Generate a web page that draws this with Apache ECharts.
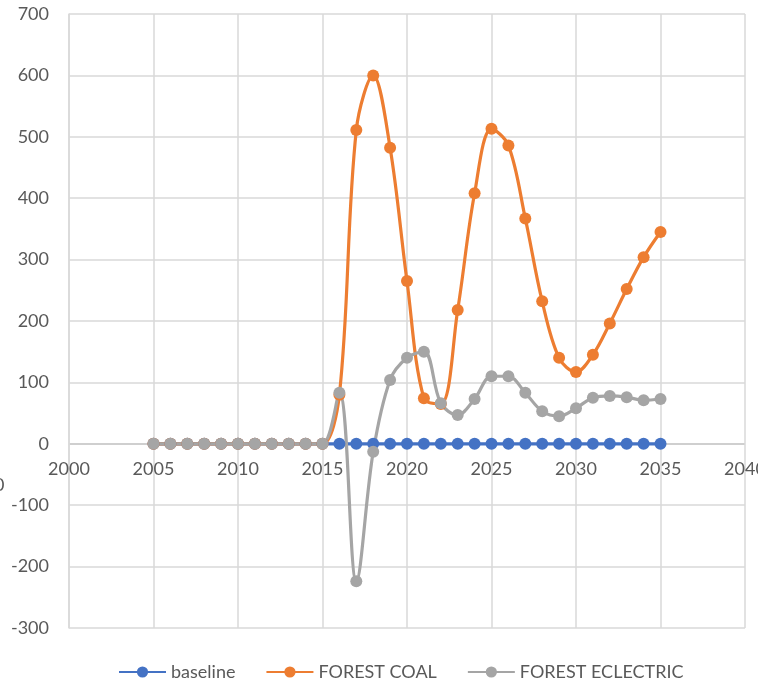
<!DOCTYPE html>
<html>
<head>
<meta charset="utf-8">
<script src="https://cdn.jsdelivr.net/npm/echarts@6/dist/echarts.min.js"></script>
<style>
  html, body { margin: 0; padding: 0; background: #fff; overflow: hidden; }
  #chart { position: absolute; left: 0; top: 0; width: 758px; height: 687px; }
</style>
</head>
<body>
<div id="chart"></div>
<script>
// Years on the x axis
const years = [2005, 2006, 2007, 2008, 2009, 2010, 2011, 2012, 2013, 2014, 2015,
  2016, 2017, 2018, 2019, 2020, 2021, 2022, 2023, 2024, 2025,
  2026, 2027, 2028, 2029, 2030, 2031, 2032, 2033, 2034, 2035];

const baseline = [0, 0, 0, 0, 0, 0, 0, 0, 0, 0, 0,
  0, 0, 0, 0, 0, 0, 0, 0, 0, 0,
  0, 0, 0, 0, 0, 0, 0, 0, 0, 0];

const forestCoal = [0, 0, 0, 0, 0, 0, 0, 0, 0, 0, 0,
  80, 511, 600, 482, 265, 74, 65, 218, 408, 513,
  486, 367, 232, 140, 117, 145, 196, 252, 304, 345];

const forestElectric = [0, 0, 0, 0, 0, 0, 0, 0, 0, 0, 0,
  83, -224, -13, 104, 140, 150, 66, 47, 73, 110,
  110, 83, 53, 45, 58, 75, 78, 76, 71, 73];

const seriesNames = ['baseline', 'FOREST COAL', 'FOREST ECLECTRIC'];
const colors = ['#4472C4', '#ED7D31', '#A5A5A5'];

// y ticks: the zero line doubles as the horizontal axis and is drawn darker
const yTicks = [-300, -200, -100, 0, 100, 200, 300, 400, 500, 600, 700];
const yLineColors = yTicks.map(v => (v === 0 ? '#BFBFBF' : '#D9D9D9'));

const pairs = arr => years.map((y, i) => [y, arr[i]]);

const FONT = 'Lato';
const chart = echarts.init(document.getElementById('chart'), null, {
  renderer: 'canvas', width: 758, height: 687
});

function lineSeries(name, values, color, smooth) {
  return {
    name: name,
    type: 'line',
    data: pairs(values),
    smooth: smooth,
    symbol: 'circle',
    symbolSize: 12,
    showAllSymbol: true,
    lineStyle: { color: color, width: 3.2 },
    itemStyle: { color: color },
    emphasis: { disabled: true },
    animation: false
  };
}

chart.setOption({
  animation: false,
  textStyle: { fontFamily: FONT },
  grid: {
    left: 69, right: 13, top: 14, bottom: 59,
    containLabel: false,
    outerBoundsMode: 'none'
  },
  legend: {
    bottom: 1,
    left: 114,
    itemWidth: 47,
    itemHeight: 12,
    itemGap: 31,
    icon: 'path://M0,5 L46,5 L46,7 L0,7 Z M23,0.5 A5.5,5.5 0 1 1 22.99,0.5 Z',
    textStyle: { fontSize: 18, color: '#595959', fontFamily: FONT },
    data: seriesNames
  },
  xAxis: {
    type: 'value',
    min: 2000,
    max: 2040,
    interval: 5,
    axisLine: { show: false },
    axisTick: { show: false },
    axisLabel: {
      color: '#595959', fontSize: 18, margin: -168,
      showMaxLabel: true, showMinLabel: true,
      formatter: v => String(v)
    },
    splitLine: { show: true, lineStyle: { color: '#D9D9D9', width: 1.5 } }
  },
  yAxis: {
    type: 'value',
    min: -300,
    max: 700,
    interval: 100,
    axisLine: { show: true, lineStyle: { color: '#D9D9D9', width: 1.5 } },
    axisTick: { show: false },
    axisLabel: { color: '#595959', fontSize: 18, margin: 20 },
    splitLine: { show: true, lineStyle: { color: yLineColors, width: 1.5 } }
  },
  graphic: [{
    type: 'text',
    left: -6,
    top: 476,
    style: { text: '0', fontSize: 18, fill: '#595959', fontFamily: FONT }
  }],
  series: [
    lineSeries(seriesNames[0], baseline, colors[0], false),
    lineSeries(seriesNames[1], forestCoal, colors[1], 0.35),
    lineSeries(seriesNames[2], forestElectric, colors[2], 0.35)
  ]
});
</script>
</body>
</html>
